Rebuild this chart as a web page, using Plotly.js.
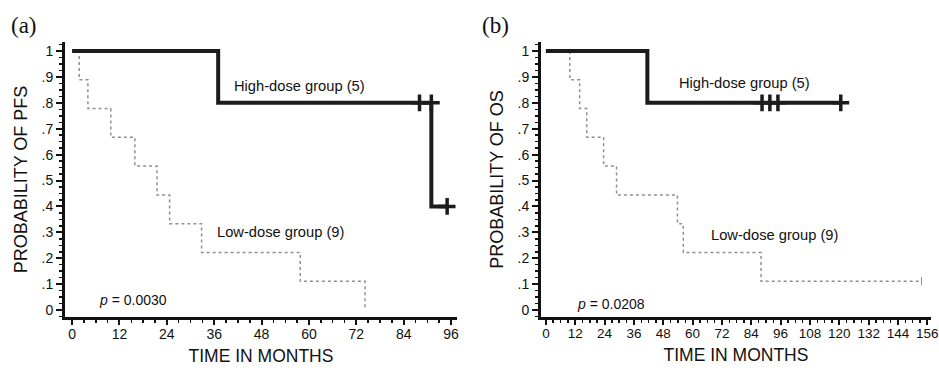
<!DOCTYPE html>
<html>
<head>
<meta charset="utf-8">
<script src="https://cdn.plot.ly/plotly-3.0.1.min.js"></script>
<style>html,body{margin:0;padding:0;background:#fff;}#chart{width:939px;height:372px;}</style>
</head>
<body>
<div id="chart"></div>
<script>
// ---- Data (months, survival probability) ----
// (a) Progression-free survival
const pfsHighTime = [0, 37, 91, 95];
const pfsHighSurv = [1, 0.8, 0.4, 0.4];
const pfsHighCensorTime = [88, 91, 95];
const pfsHighCensorSurv = [0.8, 0.8, 0.4];

const pfsLowTime = [0, 1.8, 4, 9.8, 15.9, 21.5, 24.7, 32.8, 57.8, 74.2];
const pfsLowSurv = [1, 0.889, 0.778, 0.667, 0.556, 0.444, 0.333, 0.222, 0.111, 0];

// (b) Overall survival
const osHighTime = [0, 41.5, 120.6];
const osHighSurv = [1, 0.8, 0.8];
const osHighCensorTime = [88.4, 91.6, 94.9, 120.6];
const osHighCensorSurv = [0.8, 0.8, 0.8, 0.8];

const osLowTime = [0, 9.8, 13.8, 16.7, 23.6, 28.9, 53.8, 56.2, 88, 153.6];
const osLowSurv = [1, 0.889, 0.778, 0.667, 0.556, 0.444, 0.333, 0.222, 0.111, 0.111];
const osLowCensorTime = [153.6];
const osLowCensorSurv = [0.111];

// Tick labels
const yTickVals = [0, 0.1, 0.2, 0.3, 0.4, 0.5, 0.6, 0.7, 0.8, 0.9, 1];
const yTickText = ['0', '.1', '.2', '.3', '.4', '.5', '.6', '.7', '.8', '.9', '1'];

// Labels
const groupHigh = 'High-dose group (5)';
const groupLow = 'Low-dose group (9)';
const pValueA = '<i>p</i> = 0.0030';
const pValueB = '<i>p</i> = 0.0208';

// ---- Styles ----
const sansFont = 'Liberation Sans, Arial, sans-serif';
const highLine = {color: '#1c1c1c', width: 4, shape: 'hv'};
const lowLine = {color: '#8f8f8f', width: 1.5, shape: 'hv', dash: 'dot'};
const censorMarker = {symbol: 'cross-thin', size: 12, color: '#1c1c1c', line: {width: 3.5, color: '#1c1c1c'}};
const smallCensor = {symbol: 'line-ns', size: 6, color: '#8f8f8f', line: {width: 1, color: '#8f8f8f'}};

const traces = [
  {x: pfsLowTime, y: pfsLowSurv, mode: 'lines', line: lowLine, xaxis: 'x', yaxis: 'y', hoverinfo: 'skip'},
  {x: pfsHighTime, y: pfsHighSurv, mode: 'lines', line: highLine, xaxis: 'x', yaxis: 'y', hoverinfo: 'skip'},
  {x: pfsHighCensorTime, y: pfsHighCensorSurv, mode: 'markers', marker: censorMarker, xaxis: 'x', yaxis: 'y', hoverinfo: 'skip'},
  {x: osLowTime, y: osLowSurv, mode: 'lines', line: lowLine, xaxis: 'x2', yaxis: 'y2', hoverinfo: 'skip'},
  {x: osLowCensorTime, y: osLowCensorSurv, mode: 'markers', marker: smallCensor, xaxis: 'x2', yaxis: 'y2', hoverinfo: 'skip'},
  {x: osHighTime, y: osHighSurv, mode: 'lines', line: highLine, xaxis: 'x2', yaxis: 'y2', hoverinfo: 'skip'},
  {x: osHighCensorTime, y: osHighCensorSurv, mode: 'markers', marker: censorMarker, xaxis: 'x2', yaxis: 'y2', hoverinfo: 'skip'}
];

const W = 939, H = 372;
const yDomain = [1 - 317 / H, 1 - 42 / H];

function xAxis(domain, range, anchor, fontSize) {
  return {
    domain: domain, range: range, anchor: anchor,
    tick0: 0, dtick: 12, ticks: 'outside', ticklen: 5, tickwidth: 2, tickcolor: '#111',
    minor: {dtick: 3, ticks: 'outside', ticklen: 3, tickwidth: 1.5, tickcolor: '#111'},
    showline: true, linewidth: 3, linecolor: '#111',
    showgrid: false, zeroline: false, ticklabeloverflow: 'allow', ticklabelstandoff: -3,
    tickfont: {family: sansFont, size: fontSize, color: '#111'},
    title: {text: 'TIME IN MONTHS', font: {family: sansFont, size: 17.5, color: '#111'}, standoff: 9}
  };
}
function yAxis(anchor, titleText) {
  return {
    domain: yDomain, range: [-0.027, 1.035], anchor: anchor,
    tickvals: yTickVals, ticktext: yTickText,
    ticks: 'outside', ticklen: 6, tickwidth: 2, tickcolor: '#111',
    minor: {dtick: 0.025, ticks: 'outside', ticklen: 3, tickwidth: 1.5, tickcolor: '#111'},
    showline: true, linewidth: 3, linecolor: '#111',
    showgrid: false, zeroline: false,
    tickfont: {family: sansFont, size: 14, color: '#111'},
    title: {text: titleText, font: {family: sansFont, size: 18, color: '#111'}, standoff: 10}
  };
}

const annFont = {family: sansFont, size: 14.7, color: '#111'};
const pFont = {family: sansFont, size: 14, color: '#111'};
const panelFont = {family: 'Liberation Serif, Times New Roman, serif', size: 23, color: '#111'};
const layout = {
  width: W, height: H,
  margin: {l: 0, r: 0, t: 0, b: 0},
  paper_bgcolor: '#fff', plot_bgcolor: '#fff',
  showlegend: false,
  xaxis: xAxis([65 / W, 457 / W], [-1.8, 97.5], 'y', 14),
  yaxis: yAxis('x', 'PROBABILITY OF PFS'),
  xaxis2: xAxis([541 / W, 931 / W], [-2, 157.5], 'y2', 13.5),
  yaxis2: yAxis('x2', 'PROBABILITY OF OS'),
  annotations: [
    {xref: 'paper', yref: 'paper', x: 9 / W, y: 1 - 26 / H, xanchor: 'left', yanchor: 'middle', text: '(a)', showarrow: false, font: panelFont},
    {xref: 'paper', yref: 'paper', x: 480 / W, y: 1 - 26 / H, xanchor: 'left', yanchor: 'middle', text: '(b)', showarrow: false, font: panelFont},
    {xref: 'x', yref: 'y', x: 40.4, y: 0.865, xanchor: 'left', yanchor: 'middle', text: groupHigh, showarrow: false, font: annFont},
    {xref: 'x', yref: 'y', x: 36.1, y: 0.30, xanchor: 'left', yanchor: 'middle', text: groupLow, showarrow: false, font: annFont},
    {xref: 'x', yref: 'y', x: 6.3, y: 0.04, xanchor: 'left', yanchor: 'middle', text: pValueA, showarrow: false, font: pFont},
    {xref: 'x2', yref: 'y2', x: 53.8, y: 0.875, xanchor: 'left', yanchor: 'middle', text: groupHigh, showarrow: false, font: annFont},
    {xref: 'x2', yref: 'y2', x: 66.8, y: 0.288, xanchor: 'left', yanchor: 'middle', text: groupLow, showarrow: false, font: annFont},
    {xref: 'x2', yref: 'y2', x: 11.8, y: 0.023, xanchor: 'left', yanchor: 'middle', text: pValueB, showarrow: false, font: pFont}
  ]
};

Plotly.newPlot('chart', traces, layout, {staticPlot: true, displayModeBar: false});
</script>
</body>
</html>
